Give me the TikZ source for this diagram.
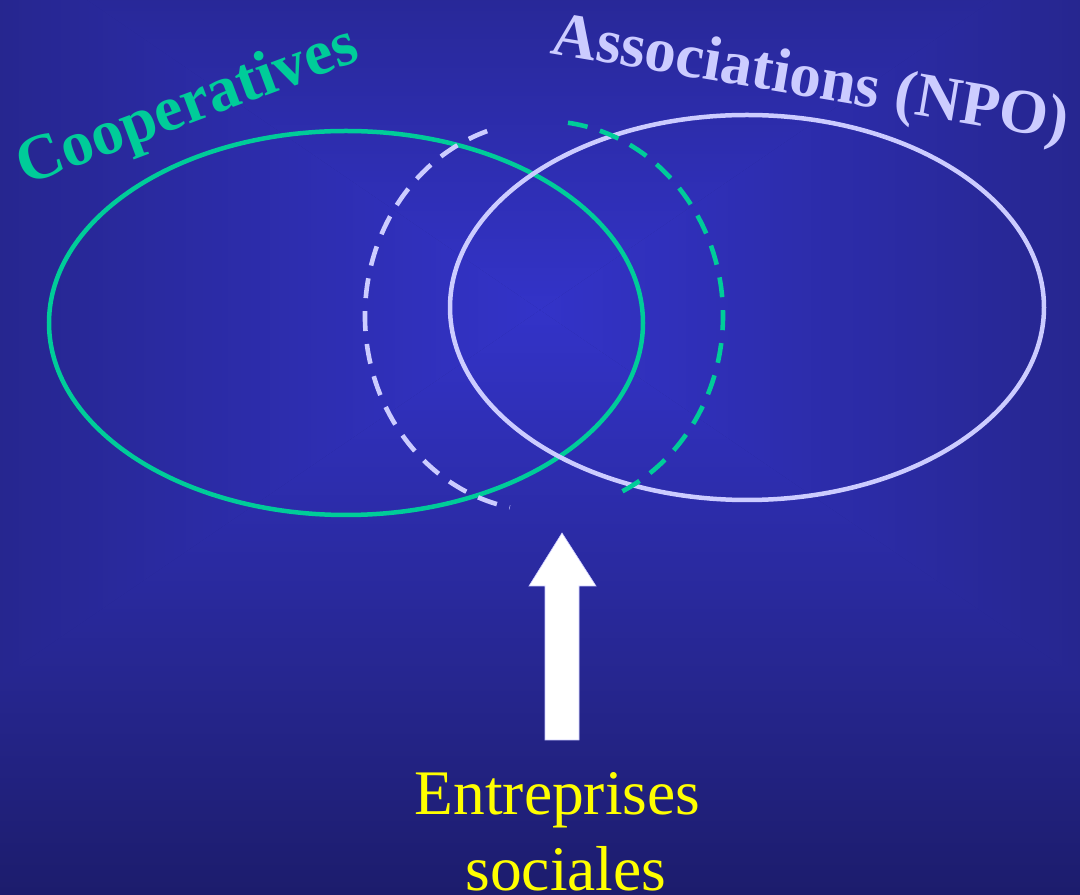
\documentclass[tikz,border=0pt]{standalone}
\usepackage{fontspec}
\setmainfont{Liberation Serif}
\usetikzlibrary{shapes.geometric,calc}
\definecolor{bgc}{RGB}{51,51,200}
\definecolor{bge}{RGB}{38,38,143}
\definecolor{bgb}{RGB}{28,28,108}
\definecolor{coopgreen}{RGB}{0,204,153}
\definecolor{assoclav}{RGB}{204,204,255}
\definecolor{esyellow}{RGB}{255,255,0}
\begin{document}
\begin{tikzpicture}[x=1pt,y=1pt,
  ring/.style={ellipse, draw, line width=4.5pt, minimum width=594pt, minimum height=384pt, inner sep=0pt},
  dashring/.style={line width=4.6pt, dash pattern=on 20pt off 13pt},
  biglabel/.style={font=\fontsize{64}{64}\selectfont\bfseries, inner sep=0pt, anchor=base west},
  eslabel/.style={font=\fontsize{63.5}{75}\selectfont, text=esyellow, inner sep=0pt, anchor=base},
  blockarrow/.style={fill=white, draw=assoclav, line width=0.6pt}]
\useasboundingbox (0,0) rectangle (1080,895);
% background: rectangular gradient from centre
\fill[bge] (-2,-2) rectangle (1082,897);
\coordinate (P) at (540,585);
\shade[top color=bge, bottom color=bgc] (P) -- (-2,956) -- (1082,956) -- cycle;
\shade[left color=bge, right color=bgc] (P) -- (-2,956) -- (-2,215) -- cycle;
\shade[left color=bgc, right color=bge] (P) -- (1082,956) -- (1082,215) -- cycle;
\shade[top color=bgc, bottom color=bge] (P) -- (1082,215) -- (-2,215) -- cycle;
\shade[top color=bge, bottom color=bgb] (-2,215.5) rectangle (1082,-2);
% ellipses
\node[ring, draw=coopgreen] (coop) at (346,572) {};
\node[ring, draw=assoclav, minimum height=385pt] (assoc) at (747,587.5) {};
% dashed social-enterprise ellipse
\coordinate (se) at (544,579);
\draw[dashring, assoclav] ($(se)+(108.5:179 and 195)$) arc[start angle=108.5, end angle=259, x radius=179, y radius=195];
\draw[dashring, coopgreen] ($(se)+(82.3:179 and 195)$) arc[start angle=82.3, end angle=-67, x radius=179, y radius=195];
% labels
\node[biglabel, text=coopgreen, rotate=20.5] (cooplabel) at (25,709) {Cooperatives};
\node[biglabel, text=assoclav, rotate=-9.6, font=\fontsize{63}{63}\selectfont\bfseries] (assoclabel) at (549,842) {Associations (NPO)};
% arrow
\coordinate (tip) at (562,362);
\draw[blockarrow] (545,155) -- (579,155) -- (579,309) -- (596,309) -- (tip) -- (529,309) -- (545,309) -- cycle;
\node[eslabel] (ent) at (557.5,80) {Entreprises};
\node[eslabel] (soc) at (566,5) {sociales};
\end{tikzpicture}
\end{document}
